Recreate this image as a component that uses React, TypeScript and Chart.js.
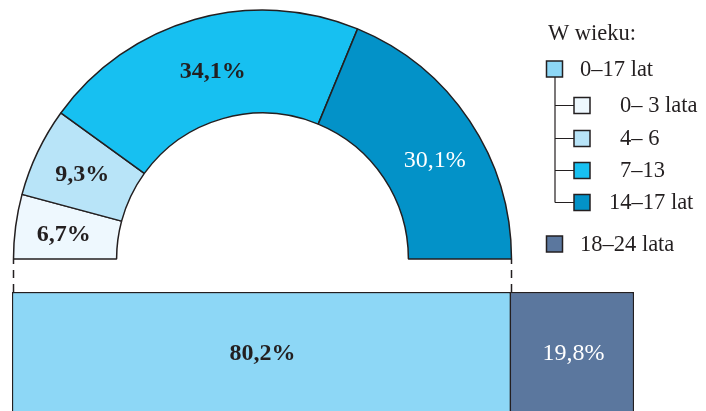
import React, { useEffect, useRef } from "react";
import { Chart, registerables } from "chart.js";

Chart.register(...registerables);

// ---- data ----
const ageGroups = ["0– 3 lata", "4– 6", "7–13", "14–17 lat"];
const ageShares = [6.7, 9.3, 34.1, 30.1];
const splitGroups = ["0–17 lat", "18–24 lata"];
const splitShares = [80.2, 19.8];
const legendTitle = "W wieku:";

// ---- styles ----
const ageColors = ["#eef8fe", "#b8e4f8", "#17c0f1", "#0392c8"];
const ageLabelColors = ["#231f20", "#231f20", "#231f20", "#ffffff"];
const ageLabelWeights = ["bold", "bold", "bold", "normal"];
const ageLabelNudge = [
  [-3, 1],
  [-2, 0],
  [4, 2],
  [8, 10],
];
const splitColors = ["#8dd7f6", "#5b779e"];
const splitLabelColors = ["#231f20", "#ffffff"];
const splitLabelWeights = ["bold", "normal"];
const INK = "#231f20";
const FONT = "'Liberation Serif', 'Times New Roman', serif";

const fmt = (v: number) => v.toFixed(1).replace(".", ",") + "%";

const W = 706;
const H = 411;

export default function App() {
  const donutRef = useRef<HTMLCanvasElement | null>(null);
  const barRef = useRef<HTMLCanvasElement | null>(null);

  useEffect(() => {
    const donutLabels = {
      id: "donutLabels",
      afterDraw(chart: any) {
        const ctx = chart.ctx as CanvasRenderingContext2D;
        const meta = chart.getDatasetMeta(0);
        ctx.save();
        ctx.textAlign = "center";
        ctx.textBaseline = "middle";
        meta.data.forEach((arc: any, i: number) => {
          const p = arc.getCenterPoint();
          ctx.fillStyle = ageLabelColors[i];
          ctx.font = `${ageLabelWeights[i]} 24px ${FONT}`;
          ctx.fillText(
            fmt(ageShares[i]),
            p.x + ageLabelNudge[i][0],
            p.y + 1 + ageLabelNudge[i][1]
          );
        });
        // dashed connectors
        const a0 = meta.data[0];
        const cx = a0.x;
        const cy = a0.y;
        const R = a0.outerRadius;
        ctx.strokeStyle = INK;
        ctx.lineWidth = 1.5;
        ctx.setLineDash([8, 6]);
        ctx.lineDashOffset = 3;
        [cx - R, cx + R].forEach((x) => {
          ctx.beginPath();
          ctx.moveTo(x, cy);
          ctx.lineTo(x, 292);
          ctx.stroke();
        });
        ctx.setLineDash([]);

        // legend
        ctx.textAlign = "left";
        ctx.fillStyle = INK;
        ctx.font = `22.5px ${FONT}`;
        ctx.fillText(legendTitle, 548, 34);

        const sq = (x: number, y: number, c: string) => {
          ctx.fillStyle = c;
          ctx.fillRect(x, y - 8, 16, 16);
          ctx.strokeStyle = INK;
          ctx.lineWidth = 1.5;
          ctx.strokeRect(x, y - 8, 16, 16);
        };
        const subY = [105.5, 138.5, 170.5, 202.5];
        // tree lines
        ctx.strokeStyle = INK;
        ctx.lineWidth = 1.2;
        ctx.beginPath();
        ctx.moveTo(555, 77);
        ctx.lineTo(555, subY[3]);
        subY.forEach((y) => {
          ctx.moveTo(555, y);
          ctx.lineTo(574, y);
        });
        ctx.stroke();

        sq(546.5, 69, splitColors[0]);
        sq(546.5, 244, splitColors[1]);
        subY.forEach((y, i) => sq(574, y, ageColors[i]));

        ctx.fillStyle = INK;
        ctx.font = `22.5px ${FONT}`;
        ctx.fillText(splitGroups[0], 580, 70);
        ctx.fillText(splitGroups[1], 580, 245);
        const subX = [620, 620, 620, 609];
        subY.forEach((y, i) => {
          ctx.fillText(ageGroups[i], subX[i], y + 1);
        });
        ctx.restore();
      },
    };

    const barLabels = {
      id: "barLabels",
      afterDraw(chart: any) {
        const ctx = chart.ctx as CanvasRenderingContext2D;
        ctx.save();
        ctx.textAlign = "center";
        ctx.textBaseline = "middle";
        chart.data.datasets.forEach((_: any, i: number) => {
          const el = chart.getDatasetMeta(i).data[0];
          const p = el.getCenterPoint();
          ctx.fillStyle = splitLabelColors[i];
          ctx.font = `${splitLabelWeights[i]} 24px ${FONT}`;
          ctx.fillText(fmt(splitShares[i]), p.x + 1, p.y + 2);
        });
        ctx.restore();
      },
    };

    const donut = new Chart(donutRef.current!, {
      type: "doughnut",
      data: {
        labels: ageGroups,
        datasets: [
          {
            data: ageShares,
            backgroundColor: ageColors,
            borderColor: INK,
            borderWidth: 1.5,
          },
        ],
      },
      options: {
        animation: false,
        responsive: false,
        rotation: -90,
        circumference: 180,
        radius: 249,
        cutout: "58.6%",
        layout: { padding: { left: 0, top: 0, right: W - 525, bottom: H - 269 } },
        plugins: { legend: { display: false }, tooltip: { enabled: false } },
      } as any,
      plugins: [donutLabels],
    });

    const bar = new Chart(barRef.current!, {
      type: "bar",
      data: {
        labels: [""],
        datasets: splitShares.map((v, i) => ({
          label: splitGroups[i],
          data: [v],
          backgroundColor: splitColors[i],
          borderColor: INK,
          borderWidth:
            i === 0
              ? { top: 1.5, left: 1.5, right: 1.5, bottom: 0 }
              : { top: 1.5, left: 0, right: 1.5, bottom: 0 },
          borderSkipped: false,
          barPercentage: 1,
          categoryPercentage: 1,
        })),
      },
      options: {
        indexAxis: "y",
        animation: false,
        responsive: false,
        layout: { padding: { left: 12, right: W - 634, top: 292, bottom: 0 } },
        scales: {
          x: { stacked: true, min: 0, max: 100, display: false },
          y: { stacked: true, display: false },
        },
        plugins: { legend: { display: false }, tooltip: { enabled: false } },
      } as any,
      plugins: [barLabels],
    });

    return () => {
      donut.destroy();
      bar.destroy();
    };
  }, []);

  const canvasStyle: React.CSSProperties = {
    position: "absolute",
    left: 0,
    top: 0,
    width: W,
    height: H,
    display: "block",
  };

  return (
    <div
      style={{
        position: "fixed",
        left: 0,
        top: 0,
        width: W,
        height: H,
        overflow: "hidden",
        background: "#ffffff",
      }}
    >
      <canvas ref={barRef} width={W} height={H} style={canvasStyle} />
      <canvas ref={donutRef} width={W} height={H} style={canvasStyle} />
    </div>
  );
}
